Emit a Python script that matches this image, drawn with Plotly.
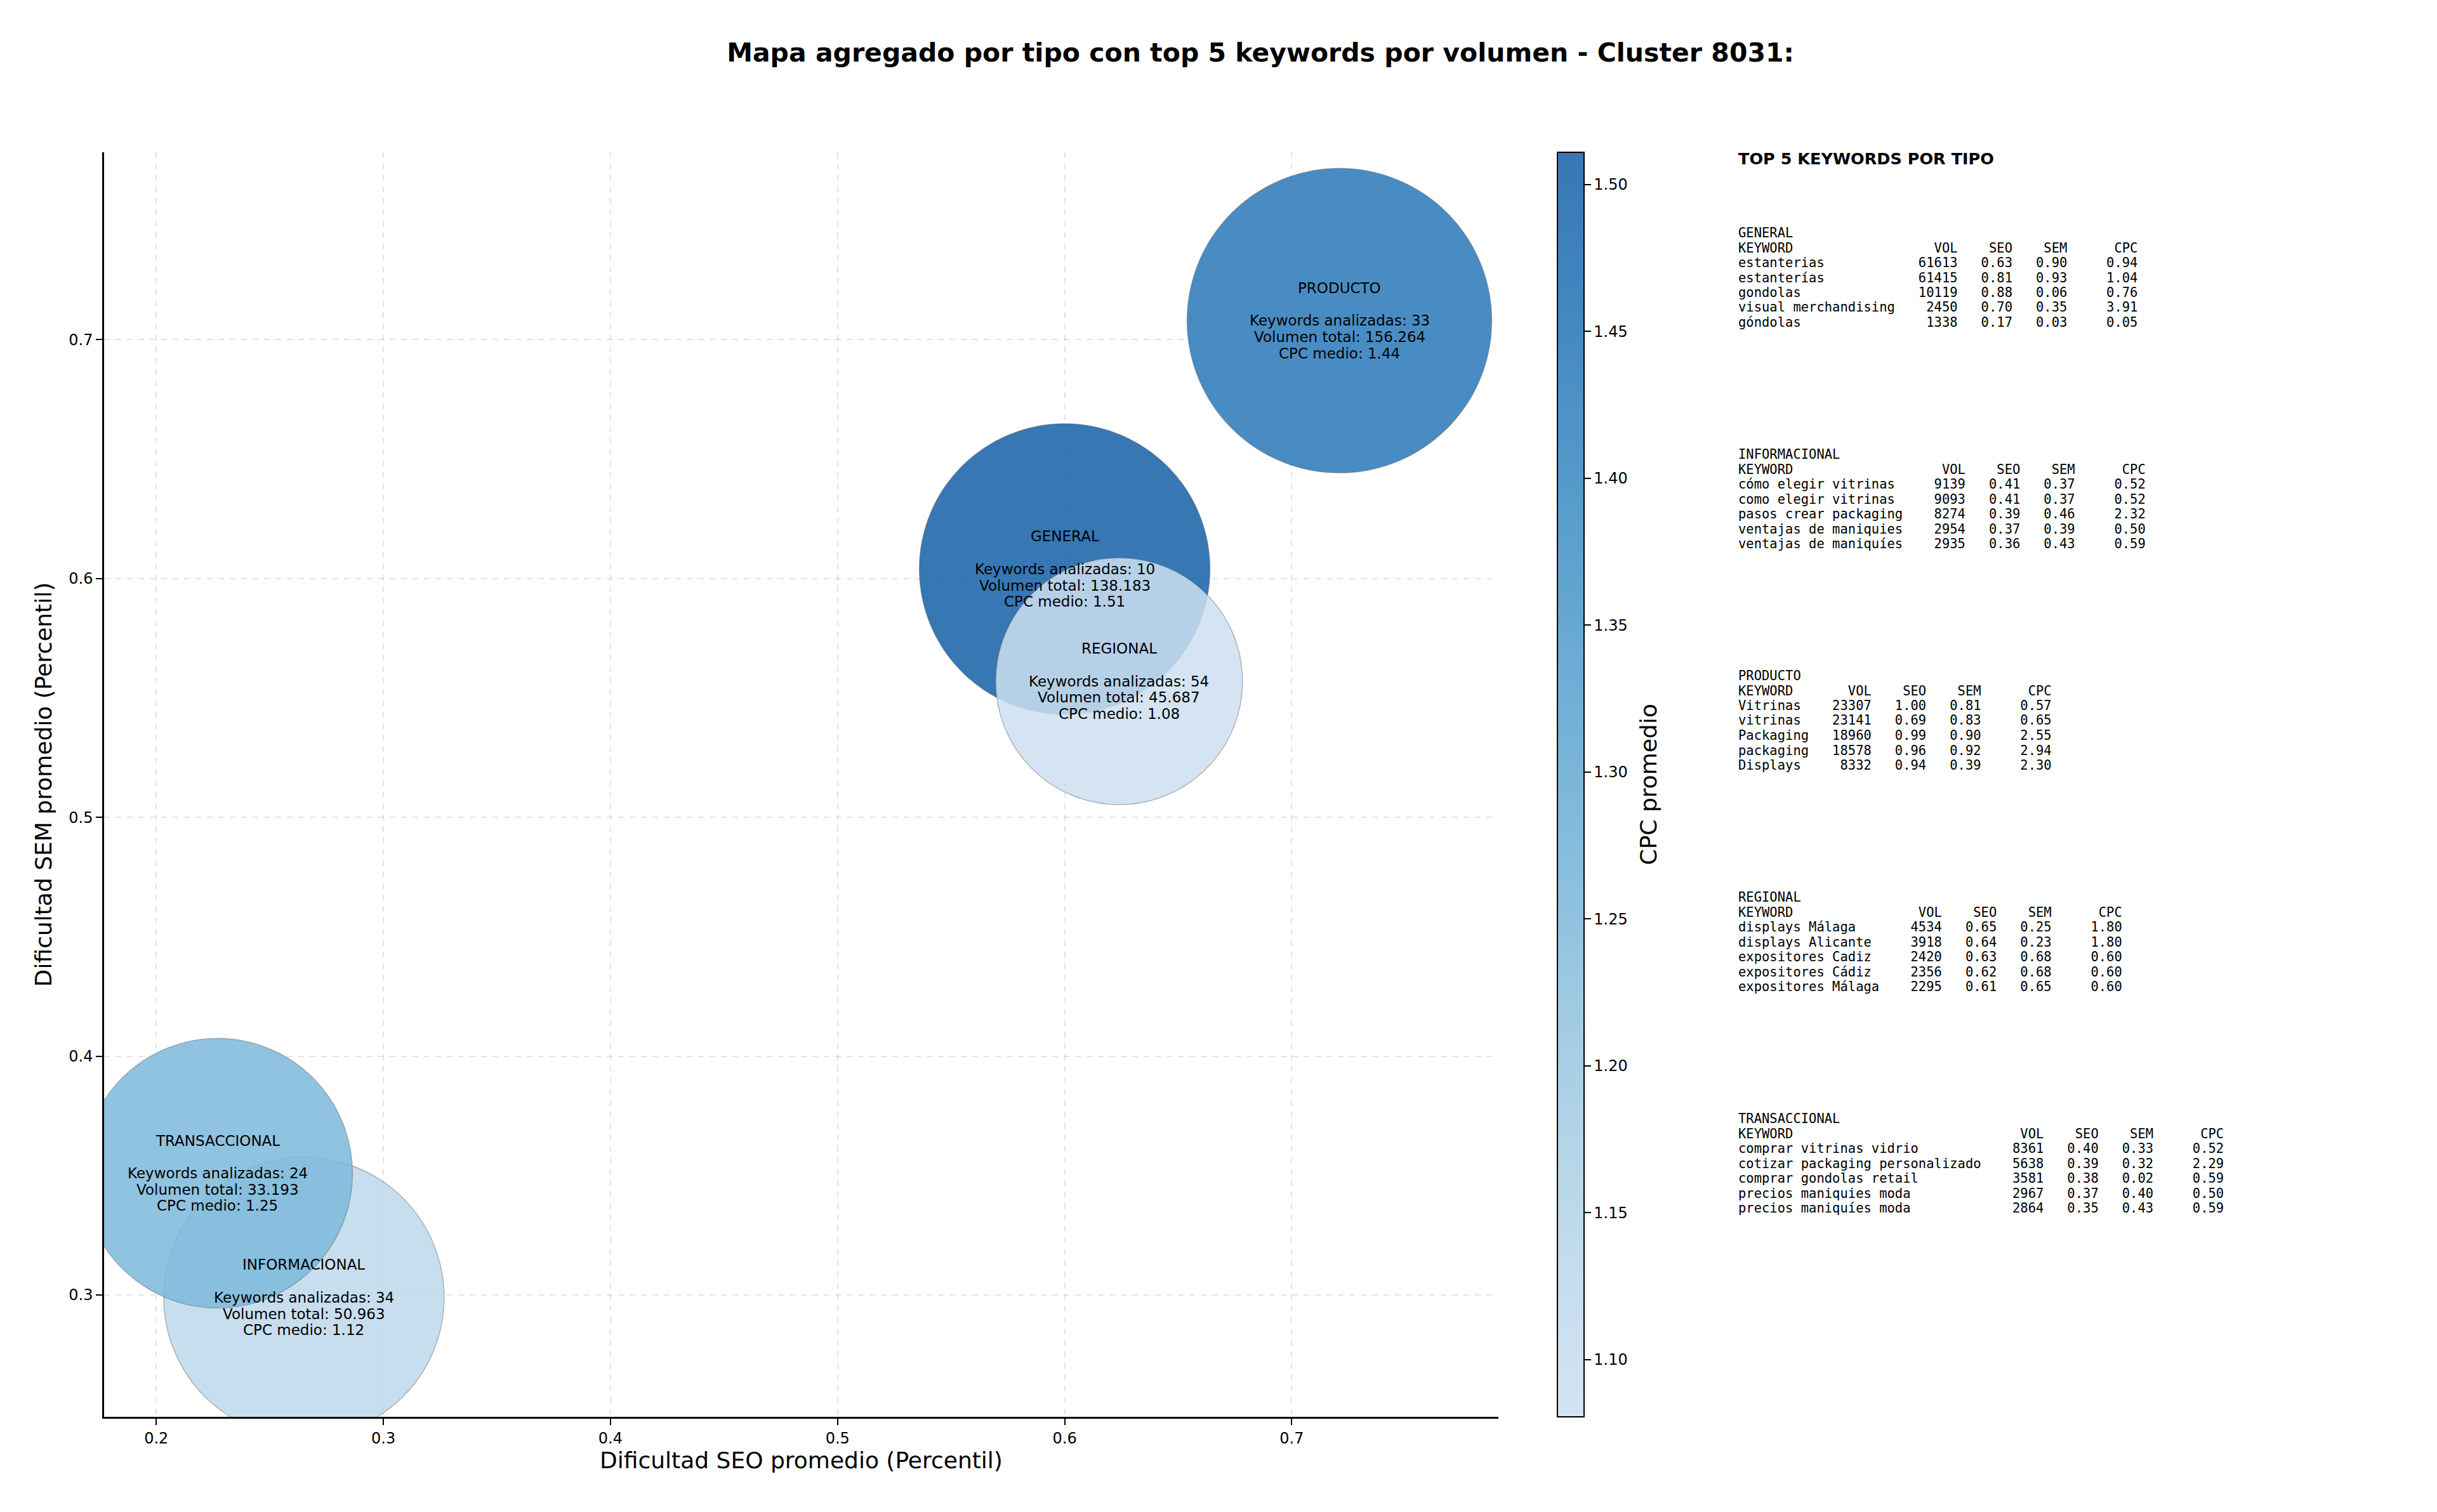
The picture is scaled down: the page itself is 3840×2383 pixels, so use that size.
import plotly.graph_objects as go

# page is shown with the browser's default 8px body margin
OFF = 8
SW, SH = 3840, 2383            # screen size
W, H = SW - 2 * OFF, SH - 2 * OFF  # figure size

# ---------------- data ----------------
categories = ["GENERAL", "INFORMACIONAL", "PRODUCTO", "REGIONAL", "TRANSACCIONAL"]
seo_mean = [0.600, 0.265, 0.721, 0.624, 0.227]
sem_mean = [0.604, 0.299, 0.708, 0.557, 0.351]
n_keywords = [10, 34, 33, 54, 24]
vol_total = [138183, 50963, 156264, 45687, 33193]
cpc_mean = [1.511, 1.12, 1.44, 1.0805, 1.25]
bubble_diameter = [458, 442, 480, 389, 425]

x_ticks = [0.2, 0.3, 0.4, 0.5, 0.6, 0.7]
y_ticks = [0.3, 0.4, 0.5, 0.6, 0.7]
cbar_ticks = [1.10, 1.15, 1.20, 1.25, 1.30, 1.35, 1.40, 1.45, 1.50]

kw_general = ["estanterias", "estanterías", "gondolas", "visual merchandising", "góndolas"]
vol_general = [61613, 61415, 10119, 2450, 1338]
seo_general = [0.63, 0.81, 0.88, 0.70, 0.17]
sem_general = [0.90, 0.93, 0.06, 0.35, 0.03]
cpc_general = [0.94, 1.04, 0.76, 3.91, 0.05]

kw_informacional = ["cómo elegir vitrinas", "como elegir vitrinas", "pasos crear packaging",
                    "ventajas de maniquies", "ventajas de maniquíes"]
vol_informacional = [9139, 9093, 8274, 2954, 2935]
seo_informacional = [0.41, 0.41, 0.39, 0.37, 0.36]
sem_informacional = [0.37, 0.37, 0.46, 0.39, 0.43]
cpc_informacional = [0.52, 0.52, 2.32, 0.50, 0.59]

kw_producto = ["Vitrinas", "vitrinas", "Packaging", "packaging", "Displays"]
vol_producto = [23307, 23141, 18960, 18578, 8332]
seo_producto = [1.00, 0.69, 0.99, 0.96, 0.94]
sem_producto = [0.81, 0.83, 0.90, 0.92, 0.39]
cpc_producto = [0.57, 0.65, 2.55, 2.94, 2.30]

kw_regional = ["displays Málaga", "displays Alicante", "expositores Cadiz",
               "expositores Cádiz", "expositores Málaga"]
vol_regional = [4534, 3918, 2420, 2356, 2295]
seo_regional = [0.65, 0.64, 0.63, 0.62, 0.61]
sem_regional = [0.25, 0.23, 0.68, 0.68, 0.65]
cpc_regional = [1.80, 1.80, 0.60, 0.60, 0.60]

kw_transaccional = ["comprar vitrinas vidrio", "cotizar packaging personalizado",
                    "comprar gondolas retail", "precios maniquies moda", "precios maniquíes moda"]
vol_transaccional = [8361, 5638, 3581, 2967, 2864]
seo_transaccional = [0.40, 0.39, 0.38, 0.37, 0.35]
sem_transaccional = [0.33, 0.32, 0.02, 0.40, 0.43]
cpc_transaccional = [0.52, 2.29, 0.59, 0.50, 0.59]

# ---------------- styling helpers ----------------
FONT = "DejaVu Sans"
MONO = "DejaVu Sans Mono"


def px_x(px):
    return (px - OFF) / W


def px_y(py):
    return 1 - (py - OFF) / H


# truncated "Blues" colormap with transparency
blues = [(0.0, (247, 251, 255)), (0.125, (222, 235, 247)), (0.25, (198, 219, 239)),
         (0.375, (158, 202, 225)), (0.5, (107, 174, 214)), (0.625, (66, 146, 198)),
         (0.75, (33, 113, 181)), (0.875, (8, 81, 156)), (1.0, (8, 48, 107))]


def blues_at(t):
    for (t0, c0), (t1, c1) in zip(blues[:-1], blues[1:]):
        if t0 <= t <= t1:
            f = (t - t0) / (t1 - t0)
            return tuple(c0[k] + f * (c1[k] - c0[k]) for k in range(3))
    return blues[-1][1]


LO, HI, ALPHA = 0.22, 0.82, 0.85
colorscale = []
for i in range(11):
    s = i / 10
    r, g, b = blues_at(LO + s * (HI - LO))
    colorscale.append([s, f"rgba({r:.0f},{g:.0f},{b:.0f},{ALPHA})"])

x0, x1 = 164, 2361
y0, y1 = 240, 2233

fig = go.Figure()
fig.add_trace(go.Scatter(
    x=seo_mean, y=sem_mean, mode="markers",
    marker=dict(
        size=bubble_diameter, sizemode="diameter", opacity=1,
        color=cpc_mean, colorscale=colorscale,
        line=dict(color="rgba(90,90,90,0.4)", width=1.5),
        colorbar=dict(
            x=px_x(2454), xanchor="left", xpad=0, ypad=0,
            y=px_y((y0 + y1) / 2), yanchor="middle",
            len=(y1 - y0) / H, lenmode="fraction",
            thickness=42, outlinewidth=2, outlinecolor="black",
            ticks="outside", ticklen=10, tickwidth=2, tickcolor="black",
            tickvals=cbar_ticks, ticktext=[f"{v:.2f}" for v in cbar_ticks],
            tickfont=dict(family=FONT, size=24, color="black"),
        ),
    ),
    hoverinfo="skip", showlegend=False, cliponaxis=True,
))

annotations = []
# colorbar label
annotations.append(dict(x=px_x(2597), y=px_y((y0 + y1) / 2), xref="paper", yref="paper",
                        text="CPC promedio", textangle=-90, showarrow=False,
                        xanchor="center", yanchor="middle",
                        font=dict(family=FONT, size=36, color="black")))

LS = 25.7
for cat, xv, yv, n, vol, cpc in zip(categories, seo_mean, sem_mean, n_keywords, vol_total, cpc_mean):
    vol_txt = f"{vol:,}".replace(",", ".")
    lines = [(cat, 2 * LS), (f"Keywords analizadas: {n}", 0),
             (f"Volumen total: {vol_txt}", -LS), (f"CPC medio: {cpc:.2f}", -2 * LS)]
    for txt, dy in lines:
        annotations.append(dict(x=xv, y=yv, xref="x", yref="y", text=txt, showarrow=False,
                                xanchor="center", yanchor="middle", yshift=dy,
                                font=dict(family=FONT, size=23, color="black")))

# right-hand table
NB = "\u00a0"
TX = 2737
annotations.append(dict(x=px_x(TX), y=px_y(250), xref="paper", yref="paper",
                        text="<b>TOP 5 KEYWORDS POR TIPO</b>", showarrow=False,
                        xanchor="left", yanchor="middle",
                        font=dict(family=FONT, size=25.5, color="black")))

blocks = [
    ("GENERAL", kw_general, vol_general, seo_general, sem_general, cpc_general),
    ("INFORMACIONAL", kw_informacional, vol_informacional, seo_informacional, sem_informacional, cpc_informacional),
    ("PRODUCTO", kw_producto, vol_producto, seo_producto, sem_producto, cpc_producto),
    ("REGIONAL", kw_regional, vol_regional, seo_regional, sem_regional, cpc_regional),
    ("TRANSACCIONAL", kw_transaccional, vol_transaccional, seo_transaccional, sem_transaccional, cpc_transaccional),
]
BLOCK0, BLOCK_STEP, LINE_STEP = 367, 349, 23.5
for b, (name, kws, vols, seos, sems, cpcs) in enumerate(blocks):
    w = max(len(k) for k in kws)
    rows = [name, f"{'KEYWORD':<{w}}{'VOL':>8}{'SEO':>7}{'SEM':>7}{'CPC':>9}"]
    for k, v, s1, s2, c in zip(kws, vols, seos, sems, cpcs):
        rows.append(f"{k:<{w}}{v:>8}{s1:>7.2f}{s2:>7.2f}{c:>9.2f}")
    for j, row in enumerate(rows):
        annotations.append(dict(x=px_x(TX), y=px_y(BLOCK0 + b * BLOCK_STEP + j * LINE_STEP),
                                xref="paper", yref="paper", text=row.replace(" ", NB),
                                showarrow=False, xanchor="left", yanchor="middle",
                                font=dict(family=MONO, size=20.5, color="black")))

axis_common = dict(
    showline=True, linewidth=2.5, linecolor="black", mirror=False,
    ticks="outside", ticklen=10, tickwidth=2, tickcolor="black",
    tickfont=dict(family=FONT, size=24, color="black"),
    showgrid=True, gridcolor="rgba(176,176,176,0.35)", gridwidth=2, griddash="dash",
    zeroline=False, automargin=False,
)

fig.update_layout(
    width=W, height=H,
    margin=dict(l=0, r=0, t=0, b=0),
    paper_bgcolor="white", plot_bgcolor="white",
    font=dict(family=FONT, color="black"),
    title=dict(text="<b>Mapa agregado por tipo con top 5 keywords por volumen - Cluster 8031:</b>",
               x=px_x(1986), y=px_y(83), xanchor="center", yanchor="middle",
               xref="paper", yref="paper",
               font=dict(family=FONT, size=41, color="black")),
    xaxis=dict(domain=[px_x(x0), px_x(x1)], range=[0.177, 0.791], tickvals=x_ticks,
               ticktext=[f"{v:.1f}" for v in x_ticks],
               title=dict(text="Dificultad SEO promedio (Percentil)", standoff=10,
                          font=dict(family=FONT, size=36, color="black")),
               **axis_common),
    yaxis=dict(domain=[px_y(y1), px_y(y0)], range=[0.249, 0.7785], tickvals=y_ticks,
               ticktext=[f"{v:.1f}" for v in y_ticks],
               title=dict(text="Dificultad SEM promedio (Percentil)", standoff=16,
                          font=dict(family=FONT, size=36, color="black")),
               **axis_common),
    annotations=annotations,
)

fig.write_html("out.html")
